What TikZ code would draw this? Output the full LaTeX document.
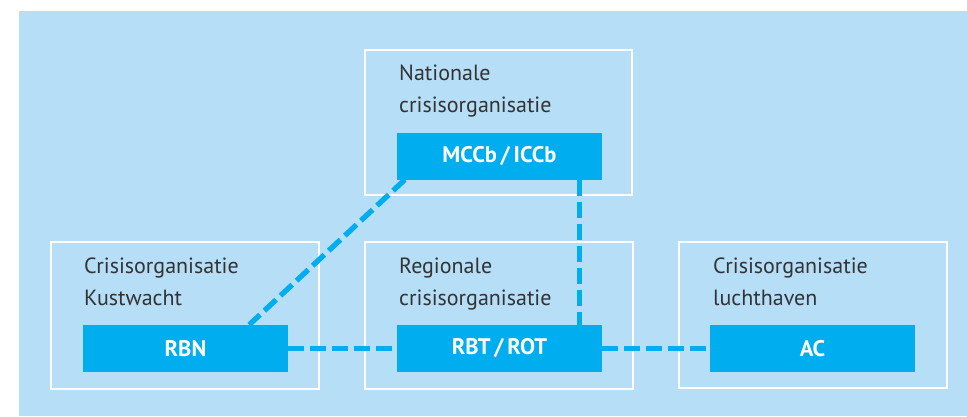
\documentclass[tikz,border=0pt]{standalone}
\usepackage{fontspec}
\setmainfont{PT Sans}
\usetikzlibrary{calc}
\definecolor{bgblue}{RGB}{182,222,246}
\definecolor{boxblue}{RGB}{0,174,239}
\definecolor{txtgray}{RGB}{51,51,51}
\tikzset{
  frame/.style={draw=white, line width=2pt},
  unit/.style={fill=boxblue, draw=none, minimum width=205pt, minimum height=47pt, inner sep=0pt,
    text=white, font=\fontsize{22.5}{24}\selectfont\bfseries},
  title/.style={anchor=base west, align=left, inner sep=0pt, text=txtgray,
    font=\fontsize{22}{32}\selectfont},
  link/.style={draw=boxblue, line width=5.3pt, dash pattern=on 16pt off 6pt}
}
\begin{document}
\begin{tikzpicture}[x=1pt,y=-1pt]
\useasboundingbox (0,0) rectangle (967,416);
\fill[bgblue] (19,11) rectangle (967,416);
% frames
\draw[frame] (365,50) rectangle (632,195);
\draw[frame] (51,242) rectangle (319,389);
\draw[frame] (365,242) rectangle (633,389);
\draw[frame] (679,242) rectangle (947,388);
% titles (anchored at the baseline of the last line)
\node[title] (tn) at (399,112) {Nationale\\crisisorganisatie};
\node[title] (tk) at (84,305) {Crisisorganisatie\\Kustwacht};
\node[title] (tr) at (399,305) {Regionale\\crisisorganisatie};
\node[title] (tl) at (713,305) {Crisisorganisatie\\luchthaven};
% units
\node[unit] (mccb) at (499.5,156) {MCCb\,/\,ICCb};
\node[unit] (rbn) at (185.5,348.5) {RBN};
\node[unit] (rbt) at (499.5,348.5) {RBT\,/\,ROT};
\node[unit] (ac) at (812.5,348.5) {AC};
% links
\draw[link] ($(mccb.south west)+(8,0)$) -- ($(rbn.north east)+(-39,0)$);
\draw[link] ($(mccb.south east)+(-22.5,0)$) -- ($(rbt.north east)+(-22.5,0)$);
\draw[link] (rbn.east) -- (rbt.west);
\draw[link] (rbt.east) -- (ac.west);
\end{tikzpicture}
\end{document}
